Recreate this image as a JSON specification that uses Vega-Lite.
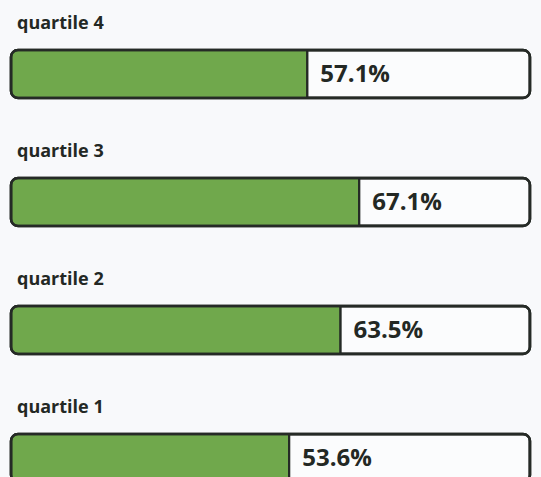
{
  "$schema": "https://vega.github.io/schema/vega-lite/v6.json",
  "width": 541,
  "height": {"step": 128},
  "autosize": "none",
  "padding": 0,
  "background": "#f8f9fb",
  "config": {"view": {"stroke": null}},
  "data": {
    "values": [
      {"group": "quartile 4", "value": 57.1, "total": 100, "label": "57.1%"},
      {"group": "quartile 3", "value": 67.1, "total": 100, "label": "67.1%"},
      {"group": "quartile 2", "value": 63.5, "total": 100, "label": "63.5%"},
      {"group": "quartile 1", "value": 53.6, "total": 100, "label": "53.6%"}
    ]
  },
  "encoding": {
    "y": {
      "field": "group",
      "type": "nominal",
      "sort": ["quartile 4", "quartile 3", "quartile 2", "quartile 1"],
      "scale": {"paddingInner": 0, "paddingOuter": 0},
      "axis": null
    }
  },
  "resolve": {"scale": {"x": "shared"}},
  "layer": [
    {
      "mark": {"type": "bar", "size": 48, "yOffset": 10, "fill": "#fbfcfd", "stroke": "#252a26", "strokeWidth": 2.5, "cornerRadius": 7},
      "encoding": {
        "x": {"field": "total", "type": "quantitative", "scale": {"domain": [0, 100], "range": [11, 530]}, "axis": null}
      }
    },
    {
      "mark": {"type": "bar", "size": 48, "yOffset": 10, "fill": "#70a84c", "stroke": "#252a26", "strokeWidth": 2.2, "cornerRadiusTopLeft": 7, "cornerRadiusBottomLeft": 7},
      "encoding": {
        "x": {"field": "value", "type": "quantitative"}
      }
    },
    {
      "mark": {"type": "bar", "size": 48, "yOffset": 10, "fillOpacity": 0, "stroke": "#252a26", "strokeWidth": 2.5, "cornerRadius": 7},
      "encoding": {
        "x": {"field": "total", "type": "quantitative"}
      }
    },
    {
      "mark": {"type": "text", "align": "left", "baseline": "alphabetic", "dx": 6, "dy": -35, "font": "Open Sans", "fontWeight": "bold", "fontSize": 18, "color": "#232824"},
      "encoding": {
        "x": {"datum": 0, "type": "quantitative"},
        "text": {"field": "group"}
      }
    },
    {
      "mark": {"type": "text", "align": "left", "baseline": "alphabetic", "dx": 13, "dy": 18, "font": "Open Sans", "fontWeight": "bold", "fontSize": 24, "color": "#232824"},
      "encoding": {
        "x": {"field": "value", "type": "quantitative"},
        "text": {"field": "label"}
      }
    }
  ]
}
